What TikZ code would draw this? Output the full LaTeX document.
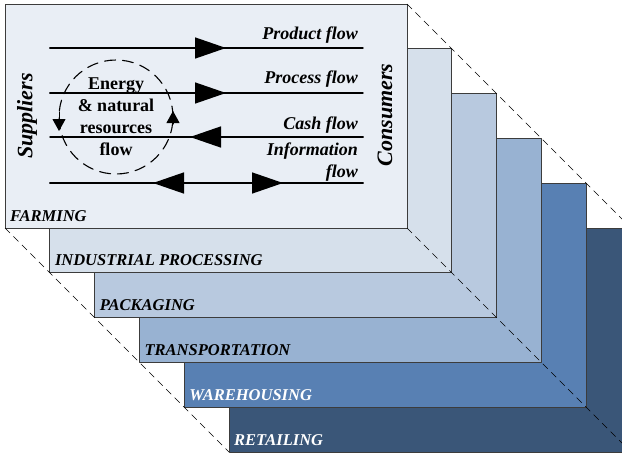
\documentclass[tikz,border=0pt]{standalone}
\usepackage{fontspec}
\setmainfont{Liberation Serif}
\usetikzlibrary{arrows.meta}
\definecolor{layerA}{HTML}{E9EEF5}
\definecolor{layerB}{HTML}{D6E0EB}
\definecolor{layerC}{HTML}{B8C9DF}
\definecolor{layerD}{HTML}{98B2D2}
\definecolor{layerE}{HTML}{5880B3}
\definecolor{layerF}{HTML}{3A5678}
\definecolor{edge}{HTML}{3C3C3C}

\begin{document}
\begin{tikzpicture}[line cap=round,line join=round,x=1pt,y=-1pt,
    layer/.style={draw=edge,line width=0.9pt},
    laylab/.style={anchor=base west,inner sep=0pt,font=\fontsize{16.5}{16.5}\selectfont\bfseries\itshape},
    flowlab/.style={anchor=base east,inner sep=0pt,font=\fontsize{18}{22}\selectfont\bfseries\itshape,align=right},
    sidelab/.style={inner sep=0pt,rotate=90,font=\fontsize{22}{22}\selectfont\bfseries\itshape},
    flow/.style={line width=1.4pt},
    bigtip/.style={-{Triangle[length=31pt,width=21pt]}},
    smalltip/.style={-{Triangle[length=12pt,width=13pt]},line width=1pt},
    diag/.style={dash pattern=on 7pt off 5pt,line width=0.7pt,line cap=butt}]
  \useasboundingbox (0,0) rectangle (622,455);
  \clip (0,0) rectangle (622,455);

  % the six layers, back to front
  \foreach \i/\col in {5/layerF,4/layerE,3/layerD,2/layerC,1/layerB,0/layerA}
    \draw[layer,fill=\col] ({5+44.8*\i},{4+44.8*\i}) rectangle +(402,224);

  % layer names
  \foreach \i/\lab/\tc [count=\n] in {0/FARMING/black,1/INDUSTRIAL PROCESSING/black,
      2/PACKAGING/black,3/TRANSPORTATION/black,4/WAREHOUSING/white,5/RETAILING/white}
    \node[laylab,text=\tc] (lab\n) at ({10+44.8*\i},{221+44.8*\i}) {\lab};

  % dashed edges of the stack
  \coordinate (tr0) at (407,4);
  \coordinate (tr6) at (631,228);
  \coordinate (bl0) at (5,228);
  \coordinate (bl6) at (229,452);
  \coordinate (br0) at (407,228);
  \coordinate (br6) at (631,452);
  \draw[diag] (tr0) -- (tr6);
  \draw[diag] (bl0) -- (bl6);
  \draw[diag] (br0) -- (br6);

  % flows
  \coordinate (s1) at (50,48);  \coordinate (e1) at (363,48);  \coordinate (t1) at (226,48);
  \coordinate (s2) at (50,93);  \coordinate (e2) at (363,93);  \coordinate (t2) at (226,93);
  \coordinate (s3) at (50,137); \coordinate (e3) at (363,137); \coordinate (t3) at (190,137);
  \coordinate (s4) at (50,183); \coordinate (e4) at (363,183);
  \coordinate (t4a) at (153,183); \coordinate (t4b) at (283,183);
  \draw[flow] (s1) -- (e1);
  \draw[flow,bigtip] (s1) -- (t1);
  \draw[flow] (s2) -- (e2);
  \draw[flow,bigtip] (s2) -- (t2);
  \draw[flow] (s3) -- (e3);
  \draw[flow,bigtip] (e3) -- (t3);
  \draw[flow] (s4) -- (e4);
  \draw[flow,bigtip] (e4) -- (t4a);
  \draw[flow,bigtip] (s4) -- (t4b);

  \node[flowlab] (prod) at (358,39) {Product flow};
  \node[flowlab] (proc) at (358,83) {Process flow};
  \node[flowlab] (cash) at (358,129) {Cash flow};
  \node[flowlab] (info) at (358,177) {Information\\flow};

  % energy loop
  \coordinate (eng) at (116,117);
  \draw[dash pattern=on 11pt off 7pt,line width=1.1pt] (eng) circle[radius=57pt];
  \coordinate (ld1) at (59,112); \coordinate (ld2) at (59,131);
  \coordinate (ru1) at (173,124); \coordinate (ru2) at (173,111);
  \draw[smalltip] (ld1) -- (ld2);
  \draw[smalltip] (ru1) -- (ru2);
  \node[inner sep=0pt,align=center,font=\fontsize{18}{22}\selectfont\bfseries] (energy) at (eng)
    {Energy\\\& natural\\resources\\flow};

  \node[sidelab] (sup) at (27,116) {Suppliers};
  \node[sidelab] (con) at (385,115) {Consumers};
\end{tikzpicture}
\end{document}
